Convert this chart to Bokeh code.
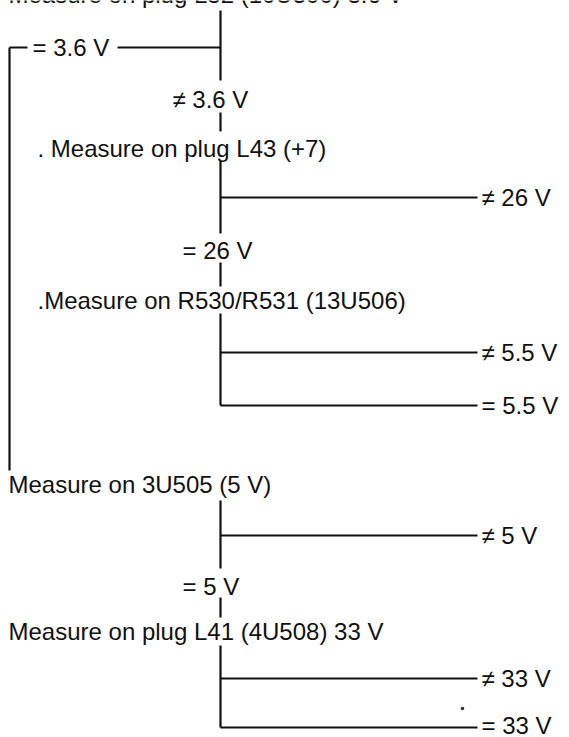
from bokeh.plotting import figure
from bokeh.models import Range1d, ColumnDataSource
from bokeh.core.properties import value
from bokeh.embed import file_html
from bokeh.resources import INLINE

# Diagram content (reference pixel coordinates)
labels = [
    "Measure on plug L32 (10U500) 3.6 V",
    "= 3.6 V",
    "\u2260 3.6 V",
    ". Measure on plug L43 (+7)",
    "\u2260 26 V",
    "= 26 V",
    ".Measure on R530/R531 (13U506)",
    "\u2260 5.5 V",
    "= 5.5 V",
    "Measure on 3U505 (5 V)",
    "\u2260 5 V",
    "= 5 V",
    "Measure on plug L41 (4U508) 33 V",
    "\u2260 33 V",
    "= 33 V",
]
label_x = [8, 32, 172, 37, 481, 182, 37, 481, 481, 8, 481, 182, 8, 481, 481]
label_y = [-6, 47, 99, 148, 197, 250, 300, 352, 405, 484, 535, 586, 631, 678, 725]

seg_x0 = [220, 117, 9, 9, 220, 220, 220, 220, 220, 220, 220, 220, 220, 220, 220, 220, 220]
seg_y0 = [10, 47, 47, 47, 112, 160, 197, 262, 313, 352, 405, 500, 535, 597, 645, 678, 727]
seg_x1 = [220, 220, 27, 9, 220, 220, 477, 220, 220, 477, 477, 220, 477, 220, 220, 477, 477]
seg_y1 = [80, 47, 47, 470, 131, 233, 197, 286, 405, 352, 405, 568, 535, 617, 727, 678, 727]

p = figure(width=569, height=737, output_backend="svg", toolbar_location=None,
           x_range=Range1d(0, 569), y_range=Range1d(737, 0),
           min_border=0, min_border_left=0, min_border_right=0,
           min_border_top=0, min_border_bottom=0)
p.axis.visible = False
p.grid.visible = False
p.outline_line_color = None
p.background_fill_color = "white"
p.border_fill_color = "white"

segs = ColumnDataSource(dict(x0=seg_x0, y0=seg_y0, x1=seg_x1, y1=seg_y1))
p.segment(x0="x0", y0="y0", x1="x1", y1="y1", source=segs,
          line_color="#111111", line_width=2.2)

src = ColumnDataSource(dict(x=label_x, y=label_y, t=labels))
p.text(x="x", y="y", text="t", source=src, text_font=value("Liberation Sans"),
       text_font_size="24px", text_baseline="middle", text_align="left",
       text_color="#111111")

# small speck near bottom
p.scatter(x=[462], y=[708], size=2.5, color="#222222")

open("out.html", "w").write(file_html(p, INLINE))
